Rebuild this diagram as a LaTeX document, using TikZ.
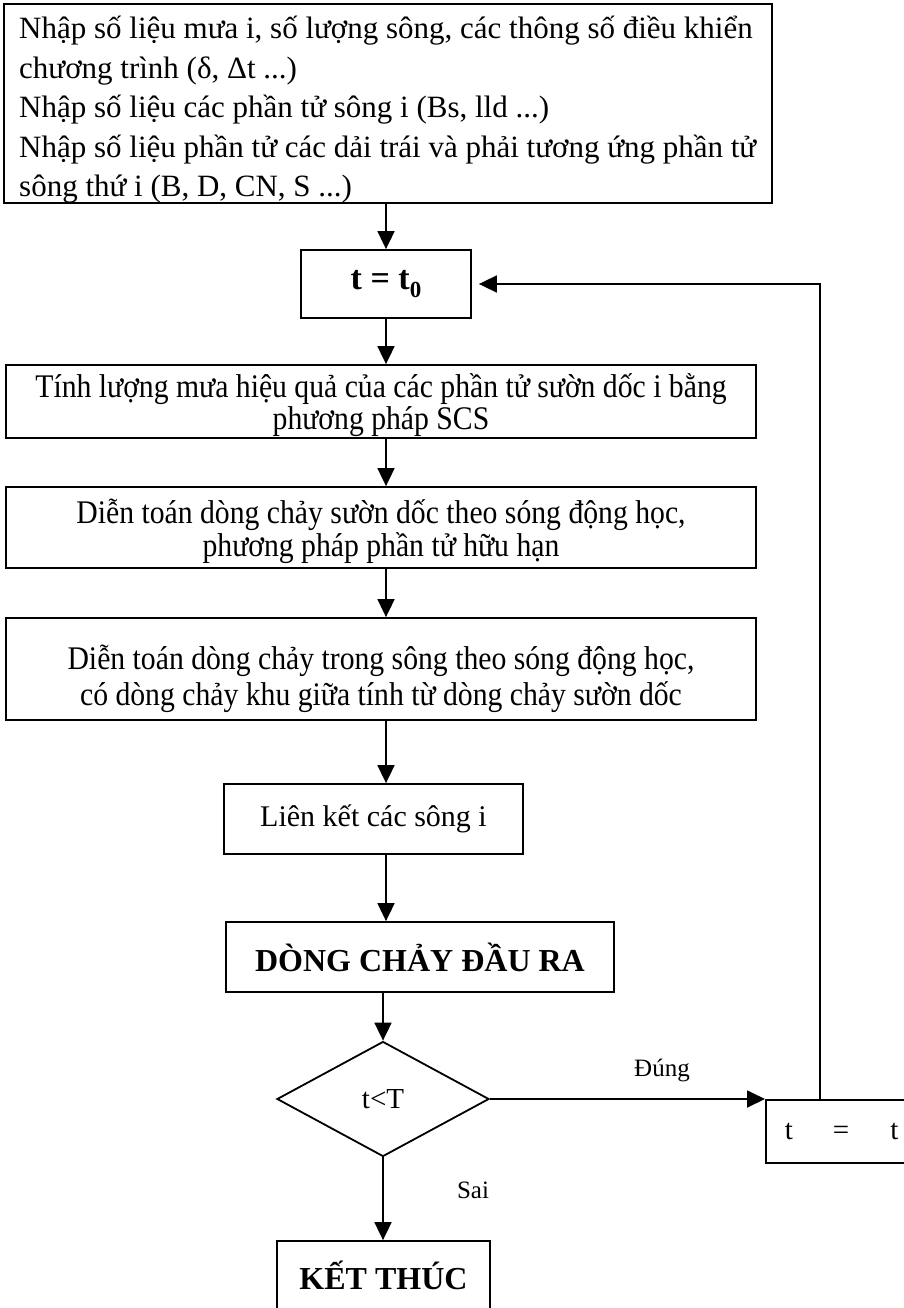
\documentclass[tikz,border=0pt]{standalone}
\usepackage{fontspec}
\setmainfont{Liberation Serif}
\usetikzlibrary{arrows.meta,shapes.geometric}
\newcommand{\condtext}[1]{\scalebox{0.9}[1]{\begin{tabular}{@{}c@{}}#1\end{tabular}}}
\begin{document}
\begin{tikzpicture}[x=1pt,y=-1pt,
  box/.style={draw, line width=1.8pt, inner sep=0pt, align=center},
  arr/.style={-{Triangle[length=18pt,width=17pt]}, line width=1.8pt},
  txt/.style={inner sep=0pt},
  lbl/.style={inner sep=0pt, font=\fontsize{25}{25}\selectfont}]
\useasboundingbox (0,0) rectangle (904,1308);
\fill[white] (0,0) rectangle (904,1308);

% input box
\node[box, minimum width=768pt, minimum height=199pt] (top) at (388,103.5) {};
\node[txt, anchor=north west, align=left, font=\fontsize{31}{39.5}\selectfont] (toptxt) at (19,16)
 {Nhập số liệu mưa i, số lượng sông, các thông số điều khiển\\
  chương trình (δ, Δt ...)\\
  Nhập số liệu các phần tử sông i (Bs, lld ...)\\
  Nhập số liệu phần tử các dải trái và phải tương ứng phần tử\\
  sông thứ i (B, D, CN, S ...)};

\node[box, minimum width=170pt, minimum height=68pt, font=\fontsize{34}{34}\selectfont\bfseries] (t0) at (386,284)
 {t = t\raisebox{-0.22em}{\fontsize{23}{23}\selectfont 0}};

\node[box, minimum width=750pt, minimum height=73pt] (tinh) at (381,401.5) {};
\node[txt, font=\fontsize{33}{29}\selectfont] (tinhtxt) at (381,406)
 {\condtext{Tính lượng mưa hiệu quả của các phần tử sườn dốc i bằng\\ phương pháp SCS}};

\node[box, minimum width=750pt, minimum height=81pt] (dien1) at (381,527.5) {};
\node[txt, font=\fontsize{33}{30}\selectfont] (dien1txt) at (381,532)
 {\condtext{Diễn toán dòng chảy sườn dốc theo sóng động học,\\ phương pháp phần tử hữu hạn}};

\node[box, minimum width=750pt, minimum height=102pt] (dien2) at (381,669) {};
\node[txt, font=\fontsize{33}{36}\selectfont] (dien2txt) at (381,680)
 {\condtext{Diễn toán dòng chảy trong sông theo sóng động học,\\ có dòng chảy khu giữa tính từ dòng chảy sườn dốc}};

\node[box, font=\fontsize{30}{30}\selectfont, minimum width=299pt, minimum height=70pt] (lk) at (373.5,819)
 {Liên kết các sông i};

\node[box, minimum width=388pt, minimum height=70pt, font=\fontsize{32}{32}\selectfont\bfseries] (dong) at (420,957)
 {DÒNG CHẢY ĐẦU RA};

\node[draw, diamond, line width=1.8pt, inner sep=0pt, minimum width=212pt, minimum height=115pt,
      font=\fontsize{29}{29}\selectfont] (dia) at (383,1099) {t<T};

\node[box, minimum width=213pt, minimum height=69pt, font=\fontsize{32}{32}\selectfont\bfseries] (ket) at (383.5,1275.5)
 {KẾT THÚC};

\node[box, minimum width=153pt, minimum height=63pt, text width=115pt, inner xsep=19pt, align=left,
      font=\fontsize{29}{29}\selectfont, anchor=north west] (tt) at (765,1099)
 {t\hspace{40pt}=\hspace{41pt}t};

\node[lbl] (yes) at (662,1070) {Đúng};
\node[lbl] (no) at (473,1190) {Sai};

\coordinate (lp) at ([xshift=55pt]tt.north west);

\draw[arr] (top.south -| t0.north) -- (t0.north);
\draw[arr] (t0.south) -- (tinh.north -| t0.south);
\draw[arr] (tinh.south -| t0.south) -- (dien1.north -| t0.south);
\draw[arr] (dien1.south -| t0.south) -- (dien2.north -| t0.south);
\draw[arr] (dien2.south -| t0.south) -- (lk.north -| t0.south);
\draw[arr] (lk.south -| t0.south) -- (dong.north -| t0.south);
\draw[arr] (dong.south -| dia.north) -- (dia.north);
\draw[arr] (dia.south) -- (ket.north -| dia.south);
\draw[arr] (dia.east) -- (tt.north west);
\draw[arr, shorten >=7pt] (lp) |- (t0.east);
\end{tikzpicture}
\end{document}
